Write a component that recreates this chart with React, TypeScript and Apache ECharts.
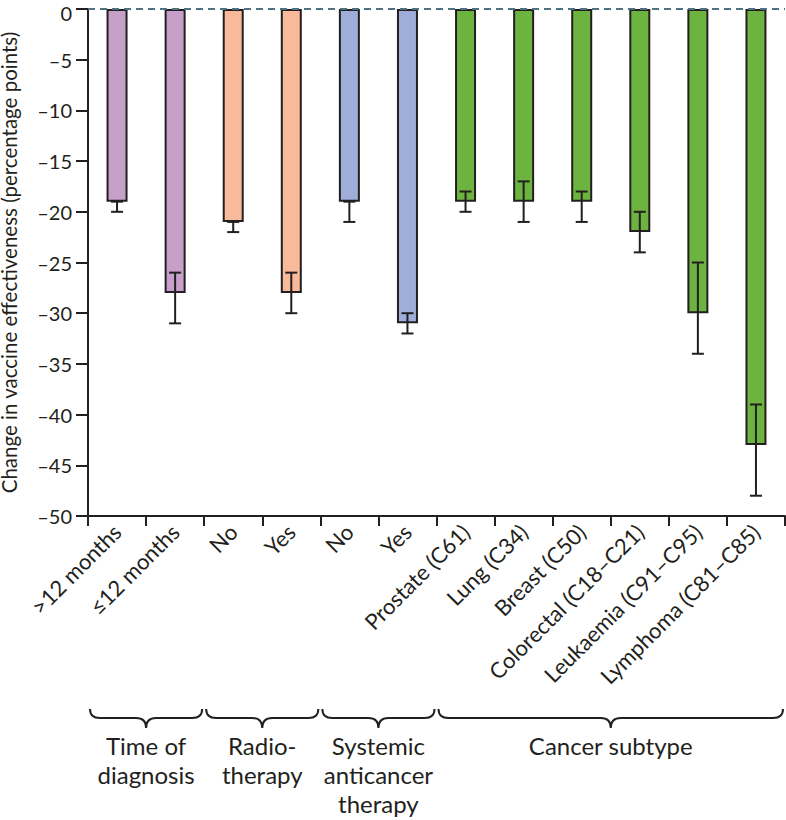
import React, { useEffect, useRef } from "react";
import * as echarts from "echarts";

// ---------- data ----------
const categories = [
  ">12 months",
  "≤12 months",
  "No",
  "Yes",
  "No",
  "Yes",
  "Prostate (C61)",
  "Lung (C34)",
  "Breast (C50)",
  "Colorectal (C18–C21)",
  "Leukaemia (C91–C95)",
  "Lymphoma (C81–C85)",
];
const values = [-19, -28, -21, -28, -19, -31, -19, -19, -19, -22, -30, -43];
const ciLow = [-20, -31, -22, -30, -21, -32, -20, -21, -21, -24, -34, -48];
const ciHigh = [-19, -26, -21, -26, -19, -30, -18, -17, -18, -20, -25, -39];
const groupLabels = [
  "Time of\ndiagnosis",
  "Radio-\ntherapy",
  "Systemic\nanticancer\ntherapy",
  "Cancer subtype",
];
const groupSpans = [
  [0, 1],
  [2, 3],
  [4, 5],
  [6, 11],
];
const yMin = -50;
const yMax = 0;
const yStep = 5;
const yAxisName = "Change in vaccine effectiveness (percentage points)";

// ---------- style ----------
const groupColors = ["#c6a0c8", "#f9b99b", "#9eaed8", "#6cb33f"];
const INK = "#231f20";
const FONT = "Lato, 'Open Sans', sans-serif";

const Brace = echarts.graphic.extendShape({
  shape: { x1: 0, x2: 0, y: 0, m: 9, h: 19, r: 10 },
  buildPath(ctx: any, s: any) {
    const xm = (s.x1 + s.x2) / 2;
    ctx.moveTo(s.x1, s.y);
    ctx.quadraticCurveTo(s.x1, s.y + s.m, s.x1 + s.r, s.y + s.m);
    ctx.lineTo(xm - s.r, s.y + s.m);
    ctx.quadraticCurveTo(xm, s.y + s.m, xm, s.y + s.h);
    ctx.quadraticCurveTo(xm, s.y + s.m, xm + s.r, s.y + s.m);
    ctx.lineTo(s.x2 - s.r, s.y + s.m);
    ctx.quadraticCurveTo(s.x2, s.y + s.m, s.x2, s.y);
  },
});
echarts.graphic.registerShape("brace", Brace);

function colorOf(i: number): string {
  for (let g = 0; g < groupSpans.length; g++) {
    if (i >= groupSpans[g][0] && i <= groupSpans[g][1]) return groupColors[g];
  }
  return groupColors[0];
}

export default function App() {
  const ref = useRef<HTMLDivElement>(null);

  useEffect(() => {
    if (!ref.current) return;
    const chart = echarts.init(ref.current, undefined, { renderer: "svg" });

    const option: any = {
      animation: false,
      grid: {
        left: 88,
        right: 1,
        top: 9,
        bottom: 304,
        containLabel: false,
        outerBoundsMode: "none",
      },
      xAxis: {
        type: "category",
        data: categories,
        boundaryGap: true,
        axisLine: { onZero: false, lineStyle: { color: INK, width: 2 } },
        axisTick: { show: true, interval: 0, length: 10, lineStyle: { color: INK, width: 2 } },
        axisLabel: {
          interval: 0,
          rotate: 45,
          margin: 12,
          color: INK,
          fontFamily: FONT,
          fontSize: 22,
        },
        splitLine: { show: false },
      },
      yAxis: {
        type: "value",
        min: yMin,
        max: yMax,
        interval: yStep,
        name: yAxisName,
        nameLocation: "middle",
        nameGap: 69,
        nameTextStyle: { color: INK, fontFamily: FONT, fontSize: 20.5, lineHeight: 21 },
        axisLine: { show: true, lineStyle: { color: INK, width: 2 } },
        axisTick: { show: true, length: 12, lineStyle: { color: INK, width: 2 } },
        axisLabel: {
          color: INK,
          fontFamily: FONT,
          fontSize: 20,
          margin: 16,
          formatter: (v: number) => (v === 0 ? "{z|0}" : "–" + Math.abs(v)),
          rich: {
            z: {
              color: INK,
              fontFamily: FONT,
              fontSize: 20,
              padding: [7, 0, 0, 0],
            },
          },
        },
        splitLine: { show: false },
      },
      series: [
        {
          type: "bar",
          barWidth: 21,
          data: values.map((v, i) => ({
            value: v,
            itemStyle: { color: colorOf(i) },
          })),
          itemStyle: { borderColor: INK, borderWidth: 2 },
          emphasis: { disabled: true },
          markLine: {
            silent: true,
            symbol: ["none", "none"],
            label: { show: false },
            lineStyle: { type: [7, 5], color: "#4d7382", width: 2 },
            data: [{ yAxis: 0 }],
          },
          z: 2,
        },
        {
          type: "custom",
          z: 3,
          data: values.map((_, i) => [i, ciLow[i], ciHigh[i]]),
          encode: { x: 0, y: [1, 2] },
          renderItem: (params: any, api: any) => {
            const x = api.value(0);
            const lo = api.coord([x, api.value(1)]);
            const hi = api.coord([x, api.value(2)]);
            const half = 6;
            const style = { stroke: INK, lineWidth: 2 };
            return {
              type: "group",
              children: [
                { type: "line", shape: { x1: lo[0], y1: lo[1], x2: hi[0], y2: hi[1] }, style },
                { type: "line", shape: { x1: lo[0] - half, y1: lo[1], x2: lo[0] + half, y2: lo[1] }, style },
                { type: "line", shape: { x1: hi[0] - half, y1: hi[1], x2: hi[0] + half, y2: hi[1] }, style },
              ],
            };
          },
        },
      ],
    };
    chart.setOption(option);

    const c0 = chart.convertToPixel({ xAxisIndex: 0 }, 0) as number;
    const c1 = chart.convertToPixel({ xAxisIndex: 0 }, 1) as number;
    const band = c1 - c0;
    const graphics: any[] = [];
    groupSpans.forEach((span, g) => {
      const left = (chart.convertToPixel({ xAxisIndex: 0 }, span[0]) as number) - band / 2 + 2;
      const right = (chart.convertToPixel({ xAxisIndex: 0 }, span[1]) as number) + band / 2 - 2;
      const xm = (left + right) / 2;
      graphics.push({
        type: "brace",
        silent: true,
        shape: { x1: left, x2: right, y: 709, m: 9, h: 19, r: 10 },
        style: { fill: "none", stroke: INK, lineWidth: 2 },
      });
      graphics.push({
        type: "text",
        silent: true,
        x: xm,
        y: 731,
        style: {
          text: groupLabels[g],
          fill: INK,
          fontFamily: FONT,
          fontSize: 24,
          lineHeight: 29,
          align: "center",
          verticalAlign: "top",
        },
      });
    });
    chart.setOption({ graphic: graphics });

    return () => chart.dispose();
  }, []);

  return (
    <div
      ref={ref}
      style={{ position: "absolute", left: 0, top: 0, width: 786, height: 820 }}
    />
  );
}
